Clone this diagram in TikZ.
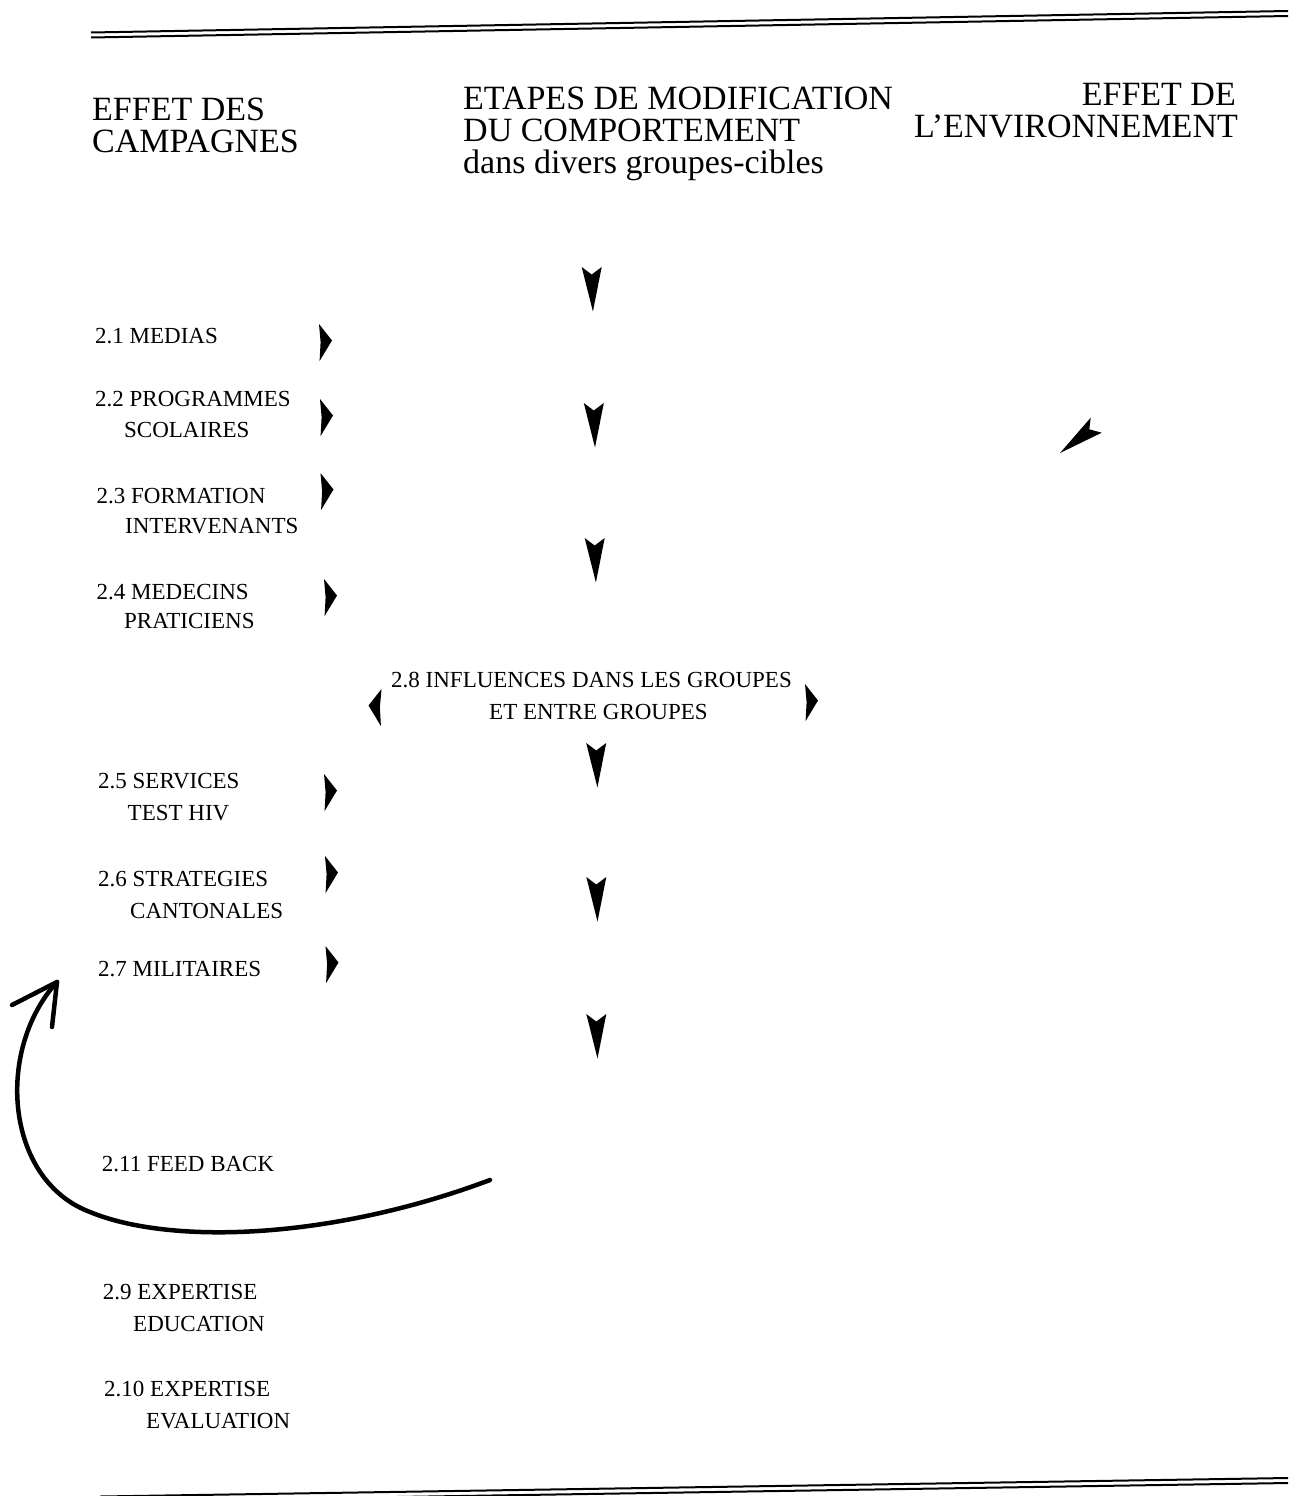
\documentclass[tikz,border=0pt]{standalone}
\usepackage{fontspec}
\setmainfont{Liberation Serif}
\begin{document}
\begin{tikzpicture}[x=1pt,y=-1pt,
  hdr/.style={font=\fontsize{34}{34}\selectfont,inner sep=0pt,anchor=base west,text depth=0pt},
  lbl/.style={font=\fontsize{23}{23}\selectfont,inner sep=0pt,anchor=base west,text depth=0pt},
  rule/.style={line width=2pt},
  downhead/.pic={\fill (-10,0) -- (0,7.5) -- (10,0) -- (1.2,44.5) -- cycle;},
  righthead/.pic={\fill (0,0) -- (13,16.5) -- (0.6,37) -- (1.6,18) -- cycle;},
  fb/.style={line width=4.5pt,line cap=round,line join=round}
]
\useasboundingbox (0,0) rectangle (1288,1496);
\clip (0,0) rectangle (1288,1496);

% double rules
\draw[rule] (91,32.5) -- (1288,11);
\draw[rule] (91,37.5) -- (1288,16);
\draw[rule] (1288,1478) -- (100,1496.5);
\draw[rule] (1288,1483) -- (300,1498.5);

% headers
\node[hdr] (h1a) at (92,120) {EFFET DES};
\node[hdr] (h1b) at (92,152) {CAMPAGNES};
\node[hdr] (h2a) at (463,109) {ETAPES DE MODIFICATION};
\node[hdr] (h2b) at (463,141) {DU COMPORTEMENT};
\node[hdr] (h2c) at (463,173) {dans divers groupes-cibles};
\node[hdr,anchor=base east] (h3a) at (1236,105) {EFFET DE};
\node[hdr,anchor=base east] (h3b) at (1238,137) {L’ENVIRONNEMENT};

% left labels
\node[lbl] (l21) at (95,343) {2.1 MEDIAS};
\node[lbl] (l22a) at (95,406.5) {2.2 PROGRAMMES};
\node[lbl] (l22b) at (124,437) {SCOLAIRES};
\node[lbl] (l23a) at (96.5,503) {2.3 FORMATION};
\node[lbl] (l23b) at (125,533) {INTERVENANTS};
\node[lbl] (l24a) at (96.5,599) {2.4 MEDECINS};
\node[lbl] (l24b) at (124,628) {PRATICIENS};
\node[lbl] (l25a) at (98,788) {2.5 SERVICES};
\node[lbl] (l25b) at (127.5,820) {TEST HIV};
\node[lbl] (l26a) at (98,886.5) {2.6 STRATEGIES};
\node[lbl] (l26b) at (130,918) {CANTONALES};
\node[lbl] (l27) at (98,976) {2.7 MILITAIRES};
\node[lbl] (l211) at (101.7,1171.5) {2.11 FEED BACK};
\node[lbl] (l29a) at (102.7,1299) {2.9 EXPERTISE};
\node[lbl] (l29b) at (133,1331.5) {EDUCATION};
\node[lbl] (l210a) at (104,1396.5) {2.10 EXPERTISE};
\node[lbl] (l210b) at (146,1428) {EVALUATION};

% centre label
\node[lbl] (l28a) at (391,687) {2.8 INFLUENCES DANS LES GROUPES};
\node[lbl] (l28b) at (489,719) {ET ENTRE GROUPES};

% right-pointing heads
\pic at (319,324) {righthead};
\pic at (320,399) {righthead};
\pic at (320.5,473) {righthead};
\pic at (324,579) {righthead};
\pic at (324,774) {righthead};
\pic at (325,856) {righthead};
\pic at (325.5,946) {righthead};
\pic[xscale=-1] at (381.5,689) {righthead};
\pic at (805,684) {righthead};

% down heads
\pic at (591.7,267) {downhead};
\pic at (593.8,403) {downhead};
\pic at (594.7,538) {downhead};
\pic at (596.2,743) {downhead};
\pic at (596.3,877) {downhead};
\pic at (596.3,1014) {downhead};

% diagonal head
\fill (1060,453) -- (1090.7,417.7) -- (1089.3,429.3) -- (1101.7,432.7) -- cycle;

% feedback curve
\coordinate (fbs) at (490,1180);
\coordinate (fbe) at (57,982);
\draw[fb] (fbs) .. controls (330,1240) and (170,1245) .. (90,1212)
  .. controls (5,1180) and (-5,1050) .. (fbe);
\draw[fb] (fbe) -- ++(-45,23);
\draw[fb] (fbe) -- ++(-5,45);
\end{tikzpicture}
\end{document}
